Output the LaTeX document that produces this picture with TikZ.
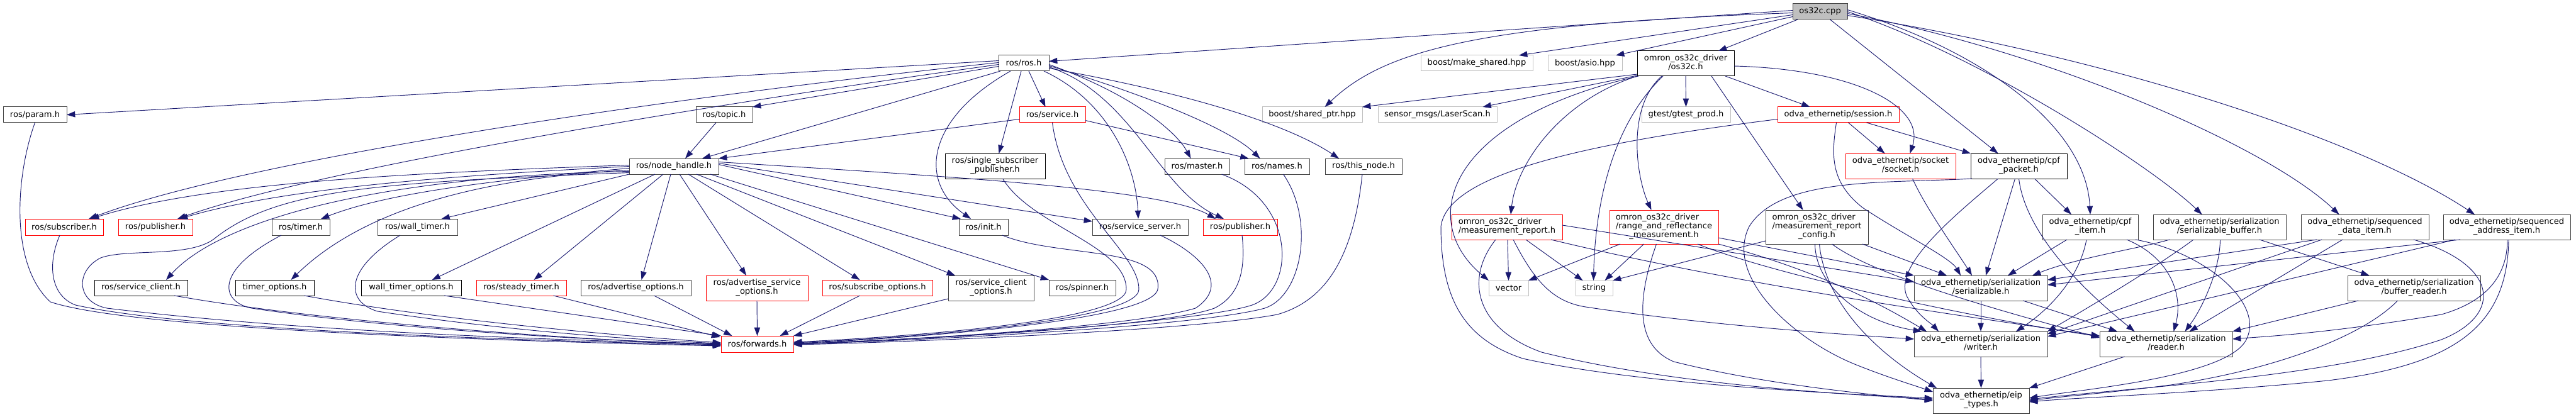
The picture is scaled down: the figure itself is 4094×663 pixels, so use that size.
\documentclass[tikz,border=0pt]{standalone}
\usepackage{fontspec}
\setmainfont{DejaVu Sans}
\usetikzlibrary{calc,arrows.meta}
\definecolor{edgec}{HTML}{191970}
\definecolor{gb}{HTML}{BFBFBF}
\definecolor{db}{HTML}{404040}
\definecolor{rb}{HTML}{FF0000}
\newcommand\Lb[2]{\begin{tabular}{@{}l@{}}#1\\\multicolumn{1}{@{}c@{}}{#2}\end{tabular}}
\newcommand\Lc[3]{\begin{tabular}{@{}l@{}}#1\\#2\\\multicolumn{1}{@{}c@{}}{#3}\end{tabular}}
\newcommand\bx[7]{\node[#2, minimum width={(#5-#3)*0.75pt}, minimum height={(#6-#4)*0.75pt}] (#1) at ({(#3+#5)/2},{(#4+#6)/2}) {#7};}
\begin{document}
\begin{tikzpicture}[x=0.75pt,y=-0.75pt, font=\fontsize{9.8pt}{10.5pt}\selectfont,
 box/.style={draw, line width=0.75pt, inner sep=0pt, outer sep=0pt, fill=white},
 nb/.style={box, draw=black},
 nd/.style={box, draw=db},
 nr/.style={box, draw=rb},
 ng/.style={box, draw=gb},
 e/.style={draw=edgec, line width=0.7pt, -{Triangle[length=10pt,width=7pt]}}]
\useasboundingbox (0,0) rectangle (4094,663);
\bx{cpp}{nd, fill=gb}{2849}{6}{2936}{31}{os32c.cpp}
\bx{ros}{nd}{1587}{88}{1667}{113}{ros/ros.h}
\bx{mkshared}{ng}{2258}{88}{2436}{113}{boost/make\_shared.hpp}
\bx{asio}{ng}{2460}{88}{2578}{113}{boost/asio.hpp}
\bx{os32ch}{nb}{2602}{81}{2756}{121}{\Lb{omron\_os32c\_driver}{/os32c.h}}
\bx{param}{nd}{5}{170}{106}{195}{ros/param.h}
\bx{topic}{nd}{1106}{170}{1196}{195}{ros/topic.h}
\bx{service}{nr}{1620}{170}{1725}{195}{ros/service.h}
\bx{shptr}{ng}{2006}{170}{2165}{195}{boost/shared\_ptr.hpp}
\bx{laser}{ng}{2190}{170}{2379}{195}{sensor\_msgs/LaserScan.h}
\bx{gtest}{ng}{2609}{170}{2750}{195}{gtest/gtest\_prod.h}
\bx{session}{nr}{2825}{170}{3018}{195}{odva\_ethernetip/session.h}
\bx{nh}{nd}{1000}{252}{1142}{277}{ros/node\_handle.h}
\bx{ssp}{nb}{1502}{244}{1661}{284}{\Lb{ros/single\_subscriber}{\_publisher.h}}
\bx{master}{nd}{1851}{252}{1954}{277}{ros/master.h}
\bx{names}{nd}{1978}{252}{2081}{277}{ros/names.h}
\bx{thisnode}{nd}{2106}{252}{2228}{277}{ros/this\_node.h}
\bx{socket}{nr}{2933}{244}{3108}{284}{\Lb{odva\_ethernetip/socket}{/socket.h}}
\bx{cpfpkt}{nb}{3132}{244}{3285}{284}{\Lb{odva\_ethernetip/cpf}{\_packet.h}}
\bx{sub}{nr}{40}{348}{164}{374}{ros/subscriber.h}
\bx{pub1}{nr}{188}{348}{306}{374}{ros/publisher.h}
\bx{timer}{nd}{432}{348}{524}{374}{ros/timer.h}
\bx{wtimer}{nd}{600}{348}{727}{374}{ros/wall\_timer.h}
\bx{init}{nd}{1524}{348}{1602}{374}{ros/init.h}
\bx{srvsrv}{nd}{1736}{348}{1888}{374}{ros/service\_server.h}
\bx{pub2}{nr}{1912}{348}{2030}{374}{ros/publisher.h}
\bx{mrep}{nr}{2307}{341}{2483}{381}{\Lb{omron\_os32c\_driver}{/measurement\_report.h}}
\bx{range}{nr}{2558}{334}{2731}{388}{\Lc{omron\_os32c\_driver}{/range\_and\_reflectance}{\_measurement.h}}
\bx{mcfg}{nd}{2806}{334}{2969}{388}{\Lc{omron\_os32c\_driver}{/measurement\_report}{\_config.h}}
\bx{cpfitem}{nd}{3246}{341}{3398}{381}{\Lb{odva\_ethernetip/cpf}{\_item.h}}
\bx{sbuf}{nd}{3422}{341}{3633}{381}{\Lb{odva\_ethernetip/serialization}{/serializable\_buffer.h}}
\bx{sdata}{nd}{3657}{341}{3860}{381}{\Lb{odva\_ethernetip/sequenced}{\_data\_item.h}}
\bx{saddr}{nd}{3883}{341}{4085}{381}{\Lb{odva\_ethernetip/sequenced}{\_address\_item.h}}
\bx{sclient}{nb}{150}{445}{298}{470}{ros/service\_client.h}
\bx{topts}{nb}{374}{445}{499}{470}{timer\_options.h}
\bx{wtopts}{nb}{574}{445}{733}{470}{wall\_timer\_options.h}
\bx{stimer}{nr}{757}{445}{900}{470}{ros/steady\_timer.h}
\bx{advopts}{nd}{923}{445}{1098}{470}{ros/advertise\_options.h}
\bx{advsrv}{nr}{1122}{438}{1284}{478}{\Lb{ros/advertise\_service}{\_options.h}}
\bx{subopts}{nr}{1307}{445}{1482}{470}{ros/subscribe\_options.h}
\bx{scopts}{nd}{1507}{438}{1643}{478}{\Lb{ros/service\_client}{\_options.h}}
\bx{spinner}{nd}{1667}{445}{1773}{470}{ros/spinner.h}
\bx{vector}{ng}{2366}{446}{2429}{470}{vector}
\bx{string}{ng}{2504}{446}{2563}{470}{string}
\bx{serial}{nd}{3042}{438}{3254}{478}{\Lb{odva\_ethernetip/serialization}{/serializable.h}}
\bx{breader}{nd}{3731}{438}{3942}{478}{\Lb{odva\_ethernetip/serialization}{/buffer\_reader.h}}
\bx{fwd}{nr}{1146}{534}{1261}{560}{ros/forwards.h}
\bx{writer}{nd}{3042}{527}{3254}{567}{\Lb{odva\_ethernetip/serialization}{/writer.h}}
\bx{reader}{nd}{3337}{527}{3548}{567}{\Lb{odva\_ethernetip/serialization}{/reader.h}}
\bx{eip}{nd}{3072}{617}{3225}{657}{\Lb{odva\_ethernetip/eip}{\_types.h}}
% os32c.cpp
\draw[e] ($(cpp.west)+(0,-2)$) -- ($(ros.east)+(0,-3)$);
\draw[e] ($(cpp.west)+(0,2)$) .. controls (2350,38) and (2200,80) .. ($(shptr.north)+(20,0)$);
\draw[e] ($(cpp.west)+(0,5)$) -- ($(mkshared.north)+(67,0)$);
\draw[e] ($(cpp.west)+(0,8)$) -- ($(asio.north)+(49,0)$);
\draw[e] ($(cpp.south west)+(8,0)$) -- ($(os32ch.north)+(52,0)$);
\draw[e] ($(cpp.south)+(16,0)$) -- ($(cpfpkt.north)+(-33,0)$);
\draw[e] ($(cpp.east)+(0,-3)$) .. controls (3150,80) and (3315,200) .. (cpfitem.north);
\draw[e] ($(cpp.east)+(0,0)$) .. controls (3150,90) and (3420,265) .. ($(sbuf.north)+(-28,0)$);
\draw[e] ($(cpp.east)+(0,3)$) .. controls (3250,80) and (3600,230) .. ($(sdata.north)+(-41,0)$);
\draw[e] ($(cpp.east)+(0,6)$) .. controls (3350,90) and (3750,220) .. ($(saddr.north)+(-51,0)$);
% ros.h
\draw[e] ($(ros.west)+(0,-4)$) -- (param.east);
\draw[e] ($(ros.west)+(0,-1)$) .. controls (1100,150) and (400,250) .. ($(sub.north)+(39,0)$);
\draw[e] ($(ros.west)+(0,2)$) .. controls (1100,170) and (500,270) .. ($(pub1.north)+(35,0)$);
\draw[e] ($(ros.west)+(0,5)$) -- (topic.north east);
\draw[e] ($(ros.south west)+(3,0)$) -- ($(nh.north)+(45,0)$);
\draw[e] ($(ros.south)+(-21,0)$) .. controls (1470,190) and (1460,290) .. ($(init.north)+(-20,0)$);
\draw[e] ($(ros.south)+(-4,0)$) -- ($(ssp.north)+(6,0)$);
\draw[e] ($(ros.south)+(8,0)$) -- ($(service.north)+(-11,0)$);
\draw[e] ($(ros.south east)+(-8,0)$) .. controls (1760,160) and (1805,260) .. ($(srvsrv.north)+(-3,0)$);
\draw[e] ($(ros.east)+(0,6)$) .. controls (1800,150) and (1840,300) .. ($(pub2.north)+(-26,0)$);
\draw[e] ($(ros.east)+(0,2)$) .. controls (1800,150) and (1870,210) .. ($(master.north)+(-10,0)$);
\draw[e] ($(ros.east)+(0,4)$) .. controls (1850,160) and (1960,210) .. ($(names.north)+(-27,0)$);
\draw[e] ($(ros.east)+(0,8)$) .. controls (1900,150) and (2050,200) .. ($(thisnode.north)+(-39,0)$);
% topic, service
\draw[e] ($(topic.south)+(-13,0)$) -- ($(nh.north)+(18,0)$);
\draw[e] ($(service.west)+(0,7)$) -- (nh.north east);
\draw[e] ($(service.east)+(0,9)$) -- ($(names.north)+(-45,0)$);
\draw[e] (service.south) .. controls (1690,330) and (1810,400) .. (1810,460) .. controls (1810,510) and (1450,537) .. ($(fwd.east)+(0,-2)$);
% node_handle
\draw[e] ($(nh.west)+(0,-2)$) .. controls (650,275) and (330,290) .. ($(sub.north)+(42,0)$);
\draw[e] ($(nh.west)+(0,0)$) .. controls (700,280) and (450,300) .. ($(pub1.north)+(38,0)$);
\draw[e] ($(nh.west)+(0,3)$) .. controls (800,285) and (620,305) .. ($(timer.north)+(32,0)$);
\draw[e] ($(nh.west)+(0,6)$) .. controls (720,285) and (560,350) .. ($(topts.north)+(26,0)$);
\draw[e] ($(nh.west)+(0,8)$) .. controls (600,280) and (350,350) .. ($(sclient.north)+(40,0)$);
\draw[e] ($(nh.west)+(0,10)$) .. controls (600,290) and (440,300) .. (340,380) .. controls (300,410) and (200,395) .. (160,410) .. controls (120,430) and (120,480) .. (170,490) .. controls (500,530) and (900,540) .. ($(fwd.west)+(0,1)$);
\draw[e] (nh.south west) -- ($(wtimer.north)+(38,0)$);
\draw[e] ($(nh.south west)+(41,0)$) -- ($(wtopts.north)+(33,0)$);
\draw[e] ($(nh.south west)+(54,0)$) -- ($(stimer.north)+(20,0)$);
\draw[e] ($(nh.south west)+(66,0)$) -- ($(advopts.north)+(9,0)$);
\draw[e] ($(nh.south west)+(80,0)$) -- ($(advsrv.north)+(-17,0)$);
\draw[e] ($(nh.south west)+(94,0)$) -- ($(subopts.north)+(-28,0)$);
\draw[e] ($(nh.south west)+(107,0)$) -- ($(scopts.north)+(-57,0)$);
\draw[e] ($(nh.south west)+(129,0)$) -- (spinner.north west);
\draw[e] ($(nh.east)+(0,-3)$) -- ($(init.north)+(-36,0)$);
\draw[e] ($(nh.east)+(0,-5)$) -- ($(srvsrv.north west)+(0,4)$);
\draw[e] ($(nh.east)+(0,-7)$) .. controls (1500,280) and (1850,300) .. ($(pub2.north)+(-39,0)$);
% into forwards.h from the left / top
\draw[e] (param.south) .. controls (25,280) and (15,420) .. (80,480) .. controls (200,520) and (700,540) .. ($(fwd.west)+(0,3)$);
\draw[e] ($(sub.south)+(-7,0)$) .. controls (75,420) and (80,470) .. (120,485) .. controls (300,525) and (800,540) .. ($(fwd.west)+(0,2)$);
\draw[e] ($(timer.south west)+(15,0)$) .. controls (340,430) and (350,480) .. (400,490) .. controls (600,520) and (900,540) .. ($(fwd.west)+(0,0)$);
\draw[e] ($(wtimer.south west)+(36,0)$) .. controls (545,430) and (550,480) .. (600,495) .. controls (800,525) and (1000,540) .. ($(fwd.west)+(0,-1)$);
\draw[e] ($(sclient.south)+(53,0)$) .. controls (500,510) and (900,540) .. ($(fwd.west)+(0,1)$);
\draw[e] ($(topts.south)+(47,0)$) .. controls (700,510) and (1000,535) .. ($(fwd.west)+(0,-2)$);
\draw[e] ($(wtopts.south east)+(-27,0)$) -- (fwd.north west);
\draw[e] ($(stimer.south)+(51,0)$) -- ($(fwd.north west)+(-2,2)$);
\draw[e] ($(advopts.south)+(29,0)$) -- ($(fwd.north)+(-40,0)$);
\draw[e] (advsrv.south) -- (fwd.north);
\draw[e] ($(subopts.south)+(-28,0)$) -- ($(fwd.north)+(36,0)$);
\draw[e] ($(scopts.south west)+(0,-3)$) -- (fwd.north east);
% into forwards.h from the right
\draw[e] ($(ssp.south)+(12,0)$) .. controls (1640,360) and (1790,390) .. (1790,460) .. controls (1790,510) and (1450,535) .. ($(fwd.east)+(0,-3)$);
\draw[e] ($(init.south)+(30,0)$) .. controls (1680,410) and (1850,390) .. (1840,460) .. controls (1830,510) and (1450,538) .. ($(fwd.east)+(0,-1)$);
\draw[e] ($(srvsrv.south)+(32,0)$) .. controls (1900,400) and (1960,450) .. (1900,490) .. controls (1800,520) and (1450,540) .. (fwd.east);
\draw[e] ($(pub2.south)+(3,0)$) .. controls (1980,430) and (1970,470) .. (1930,490) .. controls (1850,520) and (1450,540) .. (fwd.east);
\draw[e] ($(master.south)+(39,0)$) .. controls (2060,320) and (2060,460) .. (1990,485) .. controls (1900,515) and (1450,540) .. (fwd.east);
\draw[e] ($(names.south)+(10,0)$) .. controls (2090,350) and (2070,470) .. (2010,490) .. controls (1900,520) and (1450,542) .. (fwd.east);
\draw[e] ($(thisnode.south)+(-2,0)$) .. controls (2150,420) and (2100,480) .. (2030,500) .. controls (1900,525) and (1450,544) .. ($(fwd.east)+(0,1)$);
% os32c.h
\draw[e] ($(os32ch.south west)+(0,-3)$) -- (shptr.north east);
\draw[e] ($(os32ch.south west)+(0,-1)$) -- ($(laser.north)+(72,0)$);
\draw[e] (os32ch.south) -- (gtest.north);
\draw[e] ($(os32ch.south east)+(-14,0)$) -- ($(session.north)+(-45,0)$);
\draw[e] ($(os32ch.east)+(0,4)$) .. controls (2950,110) and (3060,170) .. ($(socket.north)+(15,0)$);
\draw[e] (os32ch.south west) .. controls (2480,160) and (2410,260) .. ($(mrep.north)+(6,0)$);
\draw[e] ($(os32ch.south west)+(2,0)$) .. controls (2300,190) and (2250,350) .. (vector.north west);
\draw[e] ($(os32ch.south)+(-36,0)$) .. controls (2560,200) and (2535,330) .. ($(string.north)+(-1,0)$);
\draw[e] ($(os32ch.south)+(-38,0)$) .. controls (2585,170) and (2600,280) .. ($(range.north)+(-20,0)$);
\draw[e] ($(os32ch.south east)+(-36,0)$) -- ($(mcfg.north)+(-22,0)$);
% session, socket
\draw[e] ($(session.south)+(16,0)$) -- ($(socket.north)+(-25,0)$);
\draw[e] ($(session.south)+(45,0)$) -- (cpfpkt.north west);
\draw[e] ($(session.south)+(-3,0)$) .. controls (2910,250) and (2910,290) .. (2960,330) .. controls (3020,370) and (3100,410) .. ($(serial.north)+(-32,0)$);
\draw[e] ($(session.west)+(0,7)$) .. controls (2500,230) and (2300,280) .. (2290,360) .. controls (2290,480) and (2330,540) .. (2420,570) .. controls (2600,610) and (2900,625) .. ($(eip.west)+(0,-4)$);
\draw[e] ($(socket.south)+(19,0)$) .. controls (3060,330) and (3110,400) .. ($(serial.north)+(-14,0)$);
% measurement_report
\draw[e] ($(mrep.south)+(1,0)$) -- (vector.north);
\draw[e] ($(mrep.south)+(30,0)$) -- ($(string.north)+(-18,0)$);
\draw[e] ($(mrep.south)+(-18,0)$) .. controls (2330,440) and (2340,520) .. (2450,560) .. controls (2650,610) and (2900,625) .. ($(eip.west)+(0,-2)$);
\draw[e] ($(mrep.south)+(10,0)$) .. controls (2440,450) and (2470,480) .. (2520,488) .. controls (2700,515) and (2900,530) .. ($(writer.west)+(0,-8)$);
\draw[e] ($(mrep.south east)+(-18,0)$) .. controls (2750,450) and (3100,500) .. ($(reader.north west)+(0,7)$);
\draw[e] ($(mrep.east)+(0,-3)$) -- ($(serial.west)+(0,-10)$);
% range
\draw[e] ($(range.south west)+(17,0)$) -- (vector.north east);
\draw[e] ($(range.south)+(-32,0)$) -- ($(string.north)+(17,0)$);
\draw[e] ($(range.south)+(-12,0)$) .. controls (2600,480) and (2600,550) .. (2660,575) .. controls (2800,610) and (2950,625) .. ($(eip.west)+(0,0)$);
\draw[e] ($(range.east)+(0,17)$) -- (serial.north west);
\draw[e] (range.south east) .. controls (2850,420) and (2950,460) .. ($(writer.north west)+(20,0)$);
\draw[e] ($(range.south east)+(-33,0)$) .. controls (2800,430) and (3100,500) .. ($(reader.west)+(0,-12)$);
% config
\draw[e] ($(mcfg.west)+(0,22)$) -- (string.north east);
\draw[e] ($(mcfg.south)+(-3,0)$) .. controls (2885,450) and (2950,510) .. ($(writer.north west)+(12,0)$);
\draw[e] ($(mcfg.south)+(4,0)$) .. controls (2900,480) and (2980,560) .. ($(eip.north west)+(6,0)$);
\draw[e] ($(mcfg.south)+(24,0)$) .. controls (2980,440) and (3200,500) .. ($(reader.west)+(0,-10)$);
\draw[e] ($(mcfg.south east)+(-9,0)$) -- ($(serial.north)+(-54,0)$);
% cpf_packet
\draw[e] ($(cpfpkt.south)+(25,0)$) -- ($(cpfitem.north)+(-30,0)$);
\draw[e] ($(cpfpkt.south)+(-6,0)$) -- ($(serial.north)+(8,0)$);
\draw[e] ($(cpfpkt.south)+(-33,0)$) .. controls (3110,340) and (3010,420) .. (3030,470) .. controls (3045,500) and (3070,515) .. ($(writer.north)+(-67,0)$);
\draw[e] (cpfpkt.south) .. controls (3215,340) and (3260,420) .. ($(reader.north)+(-50,0)$);
\draw[e] ($(cpfpkt.south west)+(2,0)$) .. controls (3000,292) and (2830,280) .. (2780,360) .. controls (2740,440) and (2850,540) .. (2950,580) .. controls (3000,600) and (3040,612) .. ($(eip.north west)+(0,6)$);
% cpf_item
\draw[e] ($(cpfitem.south)+(-37,0)$) -- ($(serial.north)+(43,0)$);
\draw[e] ($(cpfitem.south)+(-6,0)$) .. controls (3305,440) and (3260,490) .. ($(writer.north)+(56,0)$);
\draw[e] ($(cpfitem.south east)+(-18,0)$) .. controls (3450,410) and (3470,470) .. ($(reader.north)+(12,0)$);
\draw[e] ($(cpfitem.south east)+(-4,0)$) .. controls (3500,400) and (3600,480) .. (3570,540) .. controls (3540,600) and (3300,620) .. ($(eip.east)+(0,-4)$);
% serialization core
\draw[e] (serial.south) -- (writer.north);
\draw[e] ($(serial.south)+(67,0)$) -- ($(reader.north west)+(28,0)$);
\draw[e] (writer.south) -- (eip.north);
\draw[e] ($(reader.south)+(-66,0)$) -- (eip.north east);
% serializable_buffer
\draw[e] ($(sbuf.south west)+(26,0)$) .. controls (3400,395) and (3300,410) .. ($(serial.north east)+(-24,0)$);
\draw[e] ($(sbuf.south west)+(64,0)$) .. controls (3420,430) and (3300,500) .. (writer.north east);
\draw[e] ($(sbuf.south)+(1,0)$) .. controls (3528,430) and (3500,490) .. ($(reader.north)+(30,0)$);
\draw[e] ($(sbuf.south east)+(-42,0)$) -- ($(breader.north)+(-71,0)$);
% sequenced_data_item
\draw[e] ($(sdata.south west)+(25,0)$) -- ($(serial.east)+(0,-13)$);
\draw[e] ($(sdata.south west)+(33,0)$) -- ($(writer.north east)+(0,4)$);
\draw[e] ($(sdata.south west)+(66,0)$) -- ($(reader.north)+(37,0)$);
\draw[e] ($(sdata.south east)+(-24,0)$) .. controls (3970,420) and (3980,500) .. (3880,540) .. controls (3700,600) and (3400,615) .. ($(eip.east)+(0,-2)$);
% sequenced_address_item
\draw[e] ($(saddr.south west)+(27,0)$) -- ($(serial.east)+(0,-5)$);
\draw[e] ($(saddr.south west)+(19,0)$) -- ($(writer.east)+(0,-12)$);
\draw[e] ($(saddr.south)+(1,0)$) .. controls (3985,440) and (3950,480) .. (3880,500) .. controls (3700,530) and (3600,535) .. ($(reader.east)+(0,-8)$);
\draw[e] ($(saddr.south)+(3,0)$) .. controls (3985,520) and (3900,580) .. (3700,605) .. controls (3500,625) and (3300,632) .. ($(eip.east)+(0,2)$);
% buffer_reader
\draw[e] ($(breader.south west)+(17,0)$) -- (reader.north east);
\draw[e] ($(breader.south)+(-26,0)$) .. controls (3750,540) and (3600,590) .. (3450,612) .. controls (3350,625) and (3280,630) .. (eip.east);
\end{tikzpicture}
\end{document}
